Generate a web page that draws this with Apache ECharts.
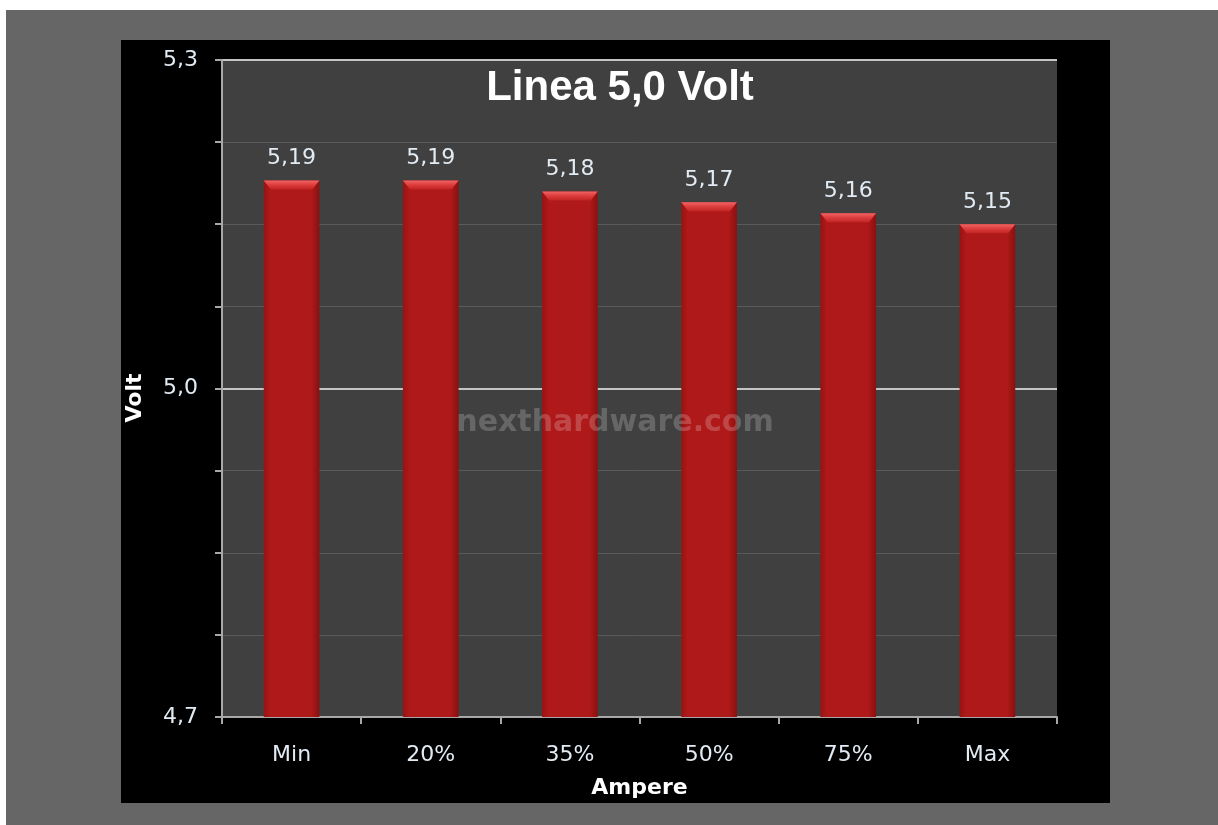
<!DOCTYPE html>
<html>
<head>
    <meta charset="UTF-8">
    <title>Linea 5,0 Volt</title>
    <script src="https://cdn.jsdelivr.net/npm/echarts@6/dist/echarts.min.js"></script>
    <style>
        html, body { margin: 0; padding: 0; background: #ffffff; }
        #frame { position: absolute; left: 6px; top: 10px; width: 1212px; height: 815px; background: #666666; }
        #panel { position: absolute; left: 121px; top: 40px; width: 989px; height: 763px; background: #000000; }
        #chart { position: absolute; left: 0; top: 0; width: 1218px; height: 825px; }
    </style>
</head>
<body>
    <div id="frame"></div>
    <div id="panel"></div>
    <div id="chart"></div>

    <script>
        // dati
        var categories = ['Min', '20%', '35%', '50%', '75%', 'Max'];
        var volts = [5.19, 5.19, 5.18, 5.17, 5.16, 5.15];
        var yMin = 4.7, yMax = 5.3;
        var yLabels = [4.7, 5.0, 5.3];

        var chart = echarts.init(document.getElementById('chart'));

        function virgola(v) {
            return String(v).replace('.', ',');
        }

        var labelColor = '#e2ebf3';
        var font = 'DejaVu Sans';

        var option = {
            backgroundColor: 'transparent',
            animation: false,
            grid: {
                left: 222, top: 60, right: 161, bottom: 108,
                show: true, backgroundColor: '#404040', borderWidth: 0
            },
            graphic: [
                {
                    type: 'text', x: 620, y: 88, z: 10,
                    style: {
                        text: 'Linea 5,0 Volt', fill: '#ffffff', font: 'bold 42px "Liberation Sans"',
                        align: 'center', verticalAlign: 'middle'
                    }
                },
                {
                    type: 'text', x: 135, y: 398, rotation: Math.PI / 2, z: 10,
                    style: {
                        text: 'Volt', fill: '#ffffff', font: 'bold 22px "DejaVu Sans"',
                        align: 'center', verticalAlign: 'middle'
                    }
                },
                {
                    type: 'text', x: 615, y: 423, z: 100,
                    style: {
                        text: 'nexthardware.com', fill: 'rgba(255,255,255,0.2)',
                        font: 'bold 30px "DejaVu Sans"', align: 'center', verticalAlign: 'middle'
                    }
                }
            ],
            xAxis: {
                type: 'category',
                data: categories,
                name: 'Ampere',
                nameLocation: 'middle',
                nameGap: 60,
                nameTextStyle: { color: '#ffffff', fontWeight: 'bold', fontSize: 22, fontFamily: font },
                axisLine: { lineStyle: { color: '#a8a8a8', width: 2 } },
                axisTick: { show: true, length: 7, lineStyle: { color: '#a8a8a8', width: 2 } },
                axisLabel: { color: labelColor, fontSize: 22, fontFamily: font, margin: 27 },
                splitLine: { show: false }
            },
            yAxis: [
                {
                    type: 'value',
                    min: yMin, max: yMax, interval: 0.075,
                    axisLine: { show: true, lineStyle: { color: '#a8a8a8', width: 2 } },
                    axisTick: { show: true, length: 7, lineStyle: { color: '#a8a8a8', width: 2 } },
                    axisLabel: {
                        color: labelColor, fontSize: 22, fontFamily: font, margin: 24,
                        formatter: function (v) {
                            for (var i = 0; i < yLabels.length; i++) {
                                if (Math.abs(v - yLabels[i]) < 1e-6) return virgola(yLabels[i].toFixed(1));
                            }
                            return '';
                        }
                    },
                    splitLine: { show: true, lineStyle: { color: '#5a5a5a', width: 1 } }
                },
                {
                    // linee principali 5,0 e 5,3
                    type: 'value',
                    min: yMin, max: yMax, interval: 0.3,
                    position: 'left',
                    axisLine: { show: false },
                    axisTick: { show: false },
                    axisLabel: { show: false },
                    splitLine: { show: true, lineStyle: { color: '#c4c4c4', width: 2 } }
                }
            ],
            series: [
                {
                    type: 'bar',
                    data: volts,
                    barWidth: '40%',
                    z: 3,
                    itemStyle: {
                        color: new echarts.graphic.LinearGradient(0, 0, 1, 0, [
                            { offset: 0, color: '#971313' },
                            { offset: 0.12, color: '#b01919' },
                            { offset: 0.85, color: '#b01919' },
                            { offset: 1, color: '#8a1010' }
                        ])
                    },
                    label: {
                        show: true, position: 'top', distance: 11,
                        color: labelColor, fontSize: 22, fontFamily: font,
                        formatter: function (p) { return virgola(p.value); }
                    }
                },
                {
                    // smussatura in cima alle barre
                    type: 'pictorialBar',
                    data: volts,
                    barWidth: '40%',
                    symbol: 'path://M0,0L55,0L48,9L7,9Z',
                    symbolSize: ['100%', 9],
                    symbolPosition: 'end',
                    z: 4,
                    itemStyle: {
                        color: new echarts.graphic.LinearGradient(0, 0, 0, 1, [
                            { offset: 0, color: '#f26464' },
                            { offset: 0.5, color: '#dc3c3c' },
                            { offset: 1, color: '#c22424' }
                        ])
                    }
                }
            ]
        };

        chart.setOption(option);
    </script>
</body>
</html>
